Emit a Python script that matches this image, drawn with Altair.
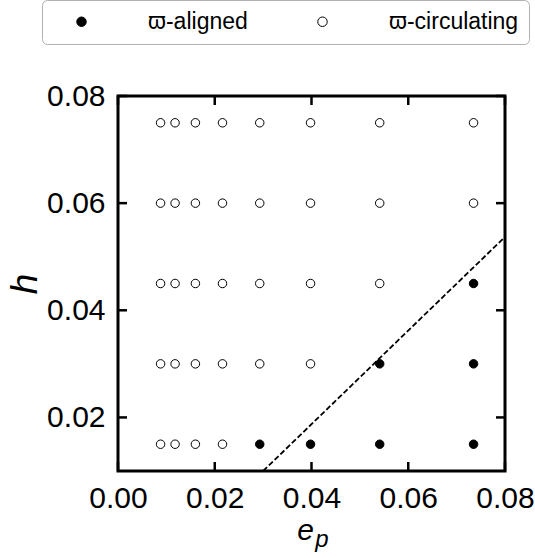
import altair as alt
import pandas as pd

# ---- data ----
ep_values = [0.0088, 0.0118, 0.0160, 0.0216, 0.0293, 0.0398, 0.0541, 0.0735]
h_values = [0.015, 0.030, 0.045, 0.060, 0.075]
# regime per row (h) and column (e_p): a = aligned, c = circulating
regime_rows = [
    ["c", "c", "c", "c", "a", "a", "a", "a"],   # h = 0.015
    ["c", "c", "c", "c", "c", "c", "a", "a"],   # h = 0.030
    ["c", "c", "c", "c", "c", "c", "c", "a"],   # h = 0.045
    ["c", "c", "c", "c", "c", "c", "c", "c"],   # h = 0.060
    ["c", "c", "c", "c", "c", "c", "c", "c"],   # h = 0.075
]
regime_names = {"a": "ϖ-aligned", "c": "ϖ-circulating"}
line_ep = [0.030, 0.080]
line_h = [0.010, 0.0537]
x_ticks = [0.00, 0.02, 0.04, 0.06, 0.08]
y_ticks = [0.02, 0.04, 0.06, 0.08]

rows = []
for h, regs in zip(h_values, regime_rows):
    for ep, r in zip(ep_values, regs):
        rows.append({"ep": ep, "h": h, "regime": regime_names[r]})
df = pd.DataFrame(rows)
df_line = pd.DataFrame({"ep": line_ep, "h": line_h})
df_xt = pd.DataFrame({"v": x_ticks})
df_yt = pd.DataFrame({"v": y_ticks})

W, H = 387, 375
FONT = "Liberation Sans"
TL = 9

xs = alt.Scale(domain=[0.0, 0.08], nice=False, zero=False)
ys = alt.Scale(domain=[0.01, 0.08], nice=False, zero=False)

x_axis = alt.Axis(values=x_ticks, format=".2f", ticks=False, tickSize=0, domain=False, grid=False,
                  labelFont=FONT, labelFontSize=30, labelColor="black", labelPadding=12,
                  labelFlush=False, labelOverlap=False, title=None)
y_axis = alt.Axis(values=y_ticks, format=".2f", ticks=False, tickSize=0, domain=False, grid=False,
                  labelFont=FONT, labelFontSize=30, labelColor="black", labelPadding=13,
                  labelOverlap=False, title="h", titleFont=FONT, titleFontSize=37,
                  titleFontStyle="italic", titleFontWeight="normal", titleColor="black",
                  titlePadding=2)

points = alt.Chart(df).mark_point(filled=True, stroke="black", strokeWidth=1, size=72, opacity=1).encode(
    x=alt.X("ep:Q", scale=xs, axis=x_axis),
    y=alt.Y("h:Q", scale=ys, axis=y_axis),
    fill=alt.Fill("regime:N",
                  scale=alt.Scale(domain=["ϖ-aligned", "ϖ-circulating"], range=["black", "white"]),
                  legend=alt.Legend(orient="none", legendX=-76, legendY=-96, direction="horizontal",
                                    columns=2, title=None, padding=10, fillColor="white",
                                    strokeColor="#b0b0b0", cornerRadius=5,
                                    labelFont=FONT, labelFontSize=23, labelColor="black",
                                    symbolType="circle", symbolSize=90, symbolStrokeColor="black",
                                    symbolStrokeWidth=1, symbolOffset=18, labelOffset=55,
                                    columnPadding=45, labelLimit=400)),
)

line = alt.Chart(df_line).mark_line(color="black", strokeWidth=1.8, strokeDash=[5.5, 2.5]).encode(
    x=alt.X("ep:Q", scale=xs), y=alt.Y("h:Q", scale=ys))

tick_style = dict(color="black", strokeWidth=2.5)
tb = alt.Chart(df_xt).mark_rule(**tick_style).encode(x=alt.X("v:Q", scale=xs), y=alt.value(H), y2=alt.value(H - TL))
tt = alt.Chart(df_xt).mark_rule(**tick_style).encode(x=alt.X("v:Q", scale=xs), y=alt.value(0), y2=alt.value(TL))
tl = alt.Chart(df_yt).mark_rule(**tick_style).encode(y=alt.Y("v:Q", scale=ys), x=alt.value(0), x2=alt.value(TL))
tr = alt.Chart(df_yt).mark_rule(**tick_style).encode(y=alt.Y("v:Q", scale=ys), x=alt.value(W), x2=alt.value(W - TL))

xt_e = alt.Chart(pd.DataFrame({"t": ["e"]})).mark_text(
    font=FONT, fontSize=30, fontStyle="italic", align="center", baseline="alphabetic", color="black"
).encode(text="t:N", x=alt.value(187.5), y=alt.value(444))
xt_p = alt.Chart(pd.DataFrame({"t": ["p"]})).mark_text(
    font=FONT, fontSize=24, fontStyle="italic", align="center", baseline="alphabetic", color="black"
).encode(text="t:N", x=alt.value(204), y=alt.value(451))

chart = alt.layer(tb, tt, tl, tr, line, points, xt_e, xt_p).properties(
    width=W, height=H,
    autosize=alt.AutoSizeParams(type="none"),
    padding={"left": 118, "top": 96, "right": 30, "bottom": 87},
).configure_view(stroke="black", strokeWidth=3)

chart.save("out.html", embed_options={"renderer": "svg", "actions": False})
